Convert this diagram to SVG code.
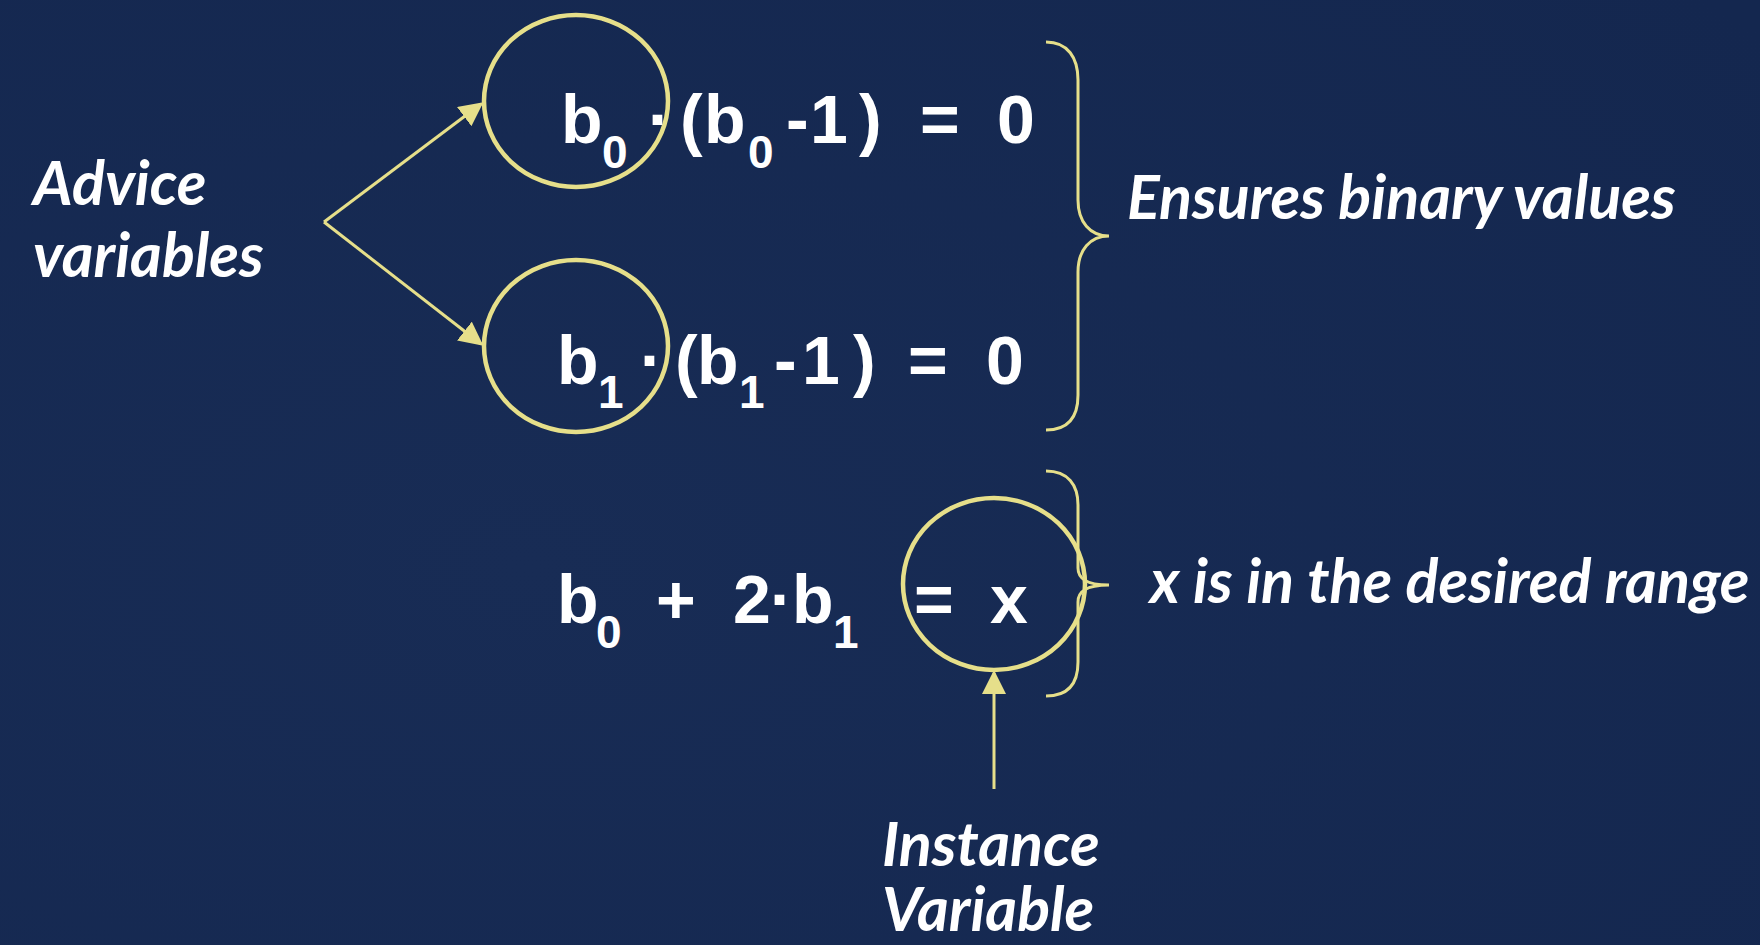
<svg xmlns="http://www.w3.org/2000/svg" width="1760" height="945" viewBox="0 0 1760 945">
<style>
.eq{font-family:"Liberation Sans",Arial,sans-serif;font-weight:bold;font-size:68px;fill:#ffffff}
.sub{font-size:46px}
.lbl{font-family:Lato,"Open Sans",sans-serif;font-style:italic;font-weight:bold;font-size:61px;fill:#ffffff}
.ring{fill:none;stroke:#e6df8a;stroke-width:4.5}
.con{fill:none;stroke:#e6df8a;stroke-width:3}
</style>
<defs>
<radialGradient id="bg" cx="0.3" cy="0.6" r="0.9">
<stop offset="0" stop-color="#182c55"/>
<stop offset="1" stop-color="#14274f"/>
</radialGradient>
<marker id="ah" markerWidth="8" markerHeight="8" refX="7" refY="4" orient="auto" markerUnits="strokeWidth">
<path d="M0,0 L8,4 L0,8 z" fill="#e6df8a"/>
</marker>
</defs>
<rect width="1760" height="945" fill="url(#bg)"/>
<g id="eq1">
<ellipse class="ring" cx="576" cy="101" rx="92" ry="86"/>
<text class="eq" y="143"><tspan x="561">b</tspan><tspan class="sub" x="602" y="168">0</tspan><tspan x="648" y="143">·</tspan><tspan x="680">(</tspan><tspan x="704">b</tspan><tspan class="sub" x="748" y="168">0</tspan><tspan x="786" y="143">-</tspan><tspan x="810">1</tspan><tspan x="859">)</tspan><tspan x="920">=</tspan><tspan x="997">0</tspan></text>
</g>
<g id="eq2">
<ellipse class="ring" cx="576" cy="346" rx="92" ry="86"/>
<text class="eq" y="384"><tspan x="557">b</tspan><tspan class="sub" x="598" y="408">1</tspan><tspan x="640" y="384">·</tspan><tspan x="675">(</tspan><tspan x="697">b</tspan><tspan class="sub" x="739" y="408">1</tspan><tspan x="774" y="384">-</tspan><tspan x="802">1</tspan><tspan x="853">)</tspan><tspan x="908">=</tspan><tspan x="986">0</tspan></text>
</g>
<g id="eq3">
<ellipse class="ring" cx="994" cy="584" rx="91" ry="86"/>
<text class="eq" y="623"><tspan x="557">b</tspan><tspan class="sub" x="596" y="648">0</tspan><tspan x="656" y="623">+</tspan><tspan x="733">2</tspan><tspan x="770">·</tspan><tspan x="792">b</tspan><tspan class="sub" x="833" y="648">1</tspan><tspan x="914" y="623">=</tspan><tspan x="990">x</tspan></text>
</g>
<g id="advice">
<text class="lbl" x="33" y="205">Advice</text>
<text class="lbl" x="33" y="277">variables</text>
</g>
<g id="binary">
<text class="lbl" x="1127" y="219">Ensures binary values</text>
</g>
<g id="range">
<text class="lbl" x="1150" y="603">x is in the desired range</text>
</g>
<g id="instance">
<text class="lbl" x="882" y="866">Instance</text>
<text class="lbl" x="882" y="931">Variable</text>
</g>
<g id="connectors">
<path class="con" d="M324,222 L481,104" marker-end="url(#ah)"/>
<path class="con" d="M324,222 L481,344" marker-end="url(#ah)"/>
<path class="con" d="M994,789 L994,673" marker-end="url(#ah)"/>
<path class="con" d="M1046,42 C1068,42 1078,58 1078,80 L1078,200 C1078,222 1090,236 1109,236 C1090,236 1078,250 1078,272 L1078,395 C1078,418 1068,430 1046,430"/>
<path class="con" d="M1046,471 C1068,471 1078,485 1078,505 L1078,568 C1078,578 1085,585 1109,585 C1085,585 1078,592 1078,602 L1078,662 C1078,684 1068,696 1046,696"/>
</g>
</svg>
